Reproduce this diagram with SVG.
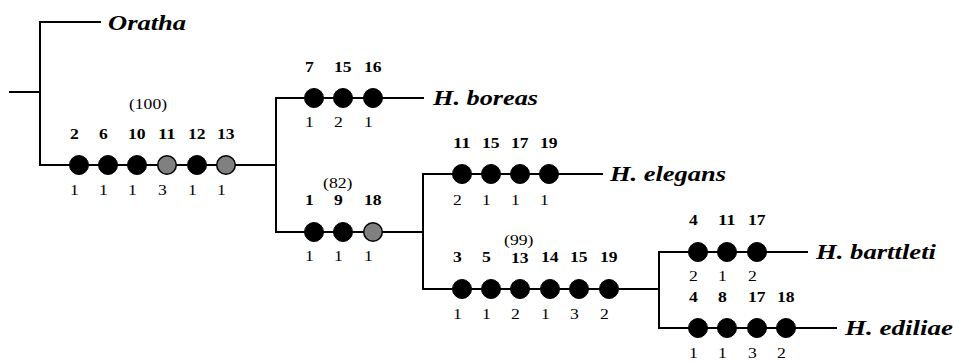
<svg xmlns="http://www.w3.org/2000/svg" width="954" height="363" viewBox="0 0 954 363">
<style>
.ln{stroke:#000;stroke-width:2;fill:none;stroke-linecap:square}
.s{fill:#000;stroke:#000;stroke-width:1}
.g{fill:#808080;stroke:#000;stroke-width:1.5}
text{font-family:"Liberation Serif","Times New Roman",serif;fill:#000}
.t{font-size:15.5px;font-weight:bold}
.b{font-size:15.5px}
.p{font-size:15.5px}
.sp{font-size:22px;font-weight:bold;font-style:italic}
</style>
<rect width="954" height="363" fill="#fff"/>
<g id="connectors">
<path class="ln" d="M10 92H40M40 22V165M40 22H100M40 165H276M276 98V232M276 98H423M276 232H423M423 174V289M423 174H602M423 289H659M659 252V328M659 252H807M659 328H836"/>
</g>
<g id="oratha"><text class="sp" x="108" y="30" textLength="78" lengthAdjust="spacingAndGlyphs">Oratha</text></g>
<g id="clade-main">
<circle class="s" cx="79" cy="165" r="9.5"/><circle class="s" cx="108" cy="165" r="9.5"/><circle class="s" cx="137" cy="165" r="9.5"/><circle class="g" cx="167" cy="165" r="9.3"/><circle class="s" cx="197" cy="165" r="9.5"/><circle class="g" cx="226" cy="165" r="9.3"/>
<text class="p" x="129" y="109" textLength="38" lengthAdjust="spacingAndGlyphs">(100)</text>
<text class="t" x="70" y="139" textLength="8.8" lengthAdjust="spacingAndGlyphs">2</text>
<text class="t" x="99" y="139" textLength="8.8" lengthAdjust="spacingAndGlyphs">6</text>
<text class="t" x="128" y="139" textLength="17.6" lengthAdjust="spacingAndGlyphs">10</text>
<text class="t" x="158" y="139" textLength="17.6" lengthAdjust="spacingAndGlyphs">11</text>
<text class="t" x="188" y="139" textLength="17.6" lengthAdjust="spacingAndGlyphs">12</text>
<text class="t" x="217" y="139" textLength="17.6" lengthAdjust="spacingAndGlyphs">13</text>
<text class="b" x="70" y="195" textLength="8.8" lengthAdjust="spacingAndGlyphs">1</text>
<text class="b" x="99" y="195" textLength="8.8" lengthAdjust="spacingAndGlyphs">1</text>
<text class="b" x="128" y="195" textLength="8.8" lengthAdjust="spacingAndGlyphs">1</text>
<text class="b" x="158" y="195" textLength="8.8" lengthAdjust="spacingAndGlyphs">3</text>
<text class="b" x="188" y="195" textLength="8.8" lengthAdjust="spacingAndGlyphs">1</text>
<text class="b" x="217" y="195" textLength="8.8" lengthAdjust="spacingAndGlyphs">1</text>
</g>
<g id="boreas">
<circle class="s" cx="314" cy="98" r="9.5"/><circle class="s" cx="343" cy="98" r="9.5"/><circle class="s" cx="373" cy="98" r="9.5"/>
<text class="t" x="305" y="72" textLength="8.8" lengthAdjust="spacingAndGlyphs">7</text>
<text class="t" x="334" y="72" textLength="17.6" lengthAdjust="spacingAndGlyphs">15</text>
<text class="t" x="364" y="72" textLength="17.6" lengthAdjust="spacingAndGlyphs">16</text>
<text class="b" x="305" y="127" textLength="8.8" lengthAdjust="spacingAndGlyphs">1</text>
<text class="b" x="334" y="127" textLength="8.8" lengthAdjust="spacingAndGlyphs">2</text>
<text class="b" x="364" y="127" textLength="8.8" lengthAdjust="spacingAndGlyphs">1</text>
<text class="sp" x="433" y="105" textLength="105" lengthAdjust="spacingAndGlyphs">H. boreas</text>
</g>
<g id="clade-b">
<circle class="s" cx="314" cy="232" r="9.5"/><circle class="s" cx="343" cy="232" r="9.5"/><circle class="g" cx="373" cy="232" r="9.3"/>
<text class="p" x="323" y="188" textLength="29.4" lengthAdjust="spacingAndGlyphs">(82)</text>
<text class="t" x="305" y="205" textLength="8.8" lengthAdjust="spacingAndGlyphs">1</text>
<text class="t" x="334" y="205" textLength="8.8" lengthAdjust="spacingAndGlyphs">9</text>
<text class="t" x="364" y="205" textLength="17.6" lengthAdjust="spacingAndGlyphs">18</text>
<text class="b" x="305" y="261" textLength="8.8" lengthAdjust="spacingAndGlyphs">1</text>
<text class="b" x="334" y="261" textLength="8.8" lengthAdjust="spacingAndGlyphs">1</text>
<text class="b" x="364" y="261" textLength="8.8" lengthAdjust="spacingAndGlyphs">1</text>
</g>
<g id="elegans">
<circle class="s" cx="462" cy="174" r="9.5"/><circle class="s" cx="491" cy="174" r="9.5"/><circle class="s" cx="520" cy="174" r="9.5"/><circle class="s" cx="549" cy="174" r="9.5"/>
<text class="t" x="453" y="148" textLength="17.6" lengthAdjust="spacingAndGlyphs">11</text>
<text class="t" x="482" y="148" textLength="17.6" lengthAdjust="spacingAndGlyphs">15</text>
<text class="t" x="511" y="148" textLength="17.6" lengthAdjust="spacingAndGlyphs">17</text>
<text class="t" x="540" y="148" textLength="17.6" lengthAdjust="spacingAndGlyphs">19</text>
<text class="b" x="453" y="205" textLength="8.8" lengthAdjust="spacingAndGlyphs">2</text>
<text class="b" x="482" y="205" textLength="8.8" lengthAdjust="spacingAndGlyphs">1</text>
<text class="b" x="511" y="205" textLength="8.8" lengthAdjust="spacingAndGlyphs">1</text>
<text class="b" x="540" y="205" textLength="8.8" lengthAdjust="spacingAndGlyphs">1</text>
<text class="sp" x="610" y="181" textLength="116" lengthAdjust="spacingAndGlyphs">H. elegans</text>
</g>
<g id="clade-c">
<circle class="s" cx="462" cy="289" r="9.5"/><circle class="s" cx="491" cy="289" r="9.5"/><circle class="s" cx="520" cy="289" r="9.5"/><circle class="s" cx="550" cy="289" r="9.5"/><circle class="s" cx="579" cy="289" r="9.5"/><circle class="s" cx="609" cy="289" r="9.5"/>
<text class="p" x="504" y="245" textLength="29.4" lengthAdjust="spacingAndGlyphs">(99)</text>
<text class="t" x="453" y="262" textLength="8.8" lengthAdjust="spacingAndGlyphs">3</text>
<text class="t" x="482" y="262" textLength="8.8" lengthAdjust="spacingAndGlyphs">5</text>
<text class="t" x="511" y="263" textLength="17.6" lengthAdjust="spacingAndGlyphs">13</text>
<text class="t" x="541" y="262" textLength="17.6" lengthAdjust="spacingAndGlyphs">14</text>
<text class="t" x="570" y="262" textLength="17.6" lengthAdjust="spacingAndGlyphs">15</text>
<text class="t" x="600" y="262" textLength="17.6" lengthAdjust="spacingAndGlyphs">19</text>
<text class="b" x="453" y="319" textLength="8.8" lengthAdjust="spacingAndGlyphs">1</text>
<text class="b" x="482" y="319" textLength="8.8" lengthAdjust="spacingAndGlyphs">1</text>
<text class="b" x="511" y="319" textLength="8.8" lengthAdjust="spacingAndGlyphs">2</text>
<text class="b" x="541" y="319" textLength="8.8" lengthAdjust="spacingAndGlyphs">1</text>
<text class="b" x="570" y="319" textLength="8.8" lengthAdjust="spacingAndGlyphs">3</text>
<text class="b" x="600" y="319" textLength="8.8" lengthAdjust="spacingAndGlyphs">2</text>
</g>
<g id="barttleti">
<circle class="s" cx="698" cy="252" r="9.5"/><circle class="s" cx="727" cy="252" r="9.5"/><circle class="s" cx="757" cy="252" r="9.5"/>
<text class="t" x="689" y="225" textLength="8.8" lengthAdjust="spacingAndGlyphs">4</text>
<text class="t" x="718" y="225" textLength="17.6" lengthAdjust="spacingAndGlyphs">11</text>
<text class="t" x="748" y="225" textLength="17.6" lengthAdjust="spacingAndGlyphs">17</text>
<text class="b" x="689" y="281" textLength="8.8" lengthAdjust="spacingAndGlyphs">2</text>
<text class="b" x="718" y="281" textLength="8.8" lengthAdjust="spacingAndGlyphs">1</text>
<text class="b" x="748" y="281" textLength="8.8" lengthAdjust="spacingAndGlyphs">2</text>
<text class="sp" x="816" y="259" textLength="120" lengthAdjust="spacingAndGlyphs">H. barttleti</text>
</g>
<g id="ediliae">
<circle class="s" cx="698" cy="328" r="9.5"/><circle class="s" cx="727" cy="328" r="9.5"/><circle class="s" cx="757" cy="328" r="9.5"/><circle class="s" cx="786" cy="328" r="9.5"/>
<text class="t" x="689" y="302" textLength="8.8" lengthAdjust="spacingAndGlyphs">4</text>
<text class="t" x="718" y="302" textLength="8.8" lengthAdjust="spacingAndGlyphs">8</text>
<text class="t" x="748" y="302" textLength="17.6" lengthAdjust="spacingAndGlyphs">17</text>
<text class="t" x="777" y="302" textLength="17.6" lengthAdjust="spacingAndGlyphs">18</text>
<text class="b" x="689" y="358" textLength="8.8" lengthAdjust="spacingAndGlyphs">1</text>
<text class="b" x="718" y="358" textLength="8.8" lengthAdjust="spacingAndGlyphs">1</text>
<text class="b" x="748" y="358" textLength="8.8" lengthAdjust="spacingAndGlyphs">3</text>
<text class="b" x="777" y="358" textLength="8.8" lengthAdjust="spacingAndGlyphs">2</text>
<text class="sp" x="845" y="335" textLength="108" lengthAdjust="spacingAndGlyphs">H. ediliae</text>
</g>
</svg>
